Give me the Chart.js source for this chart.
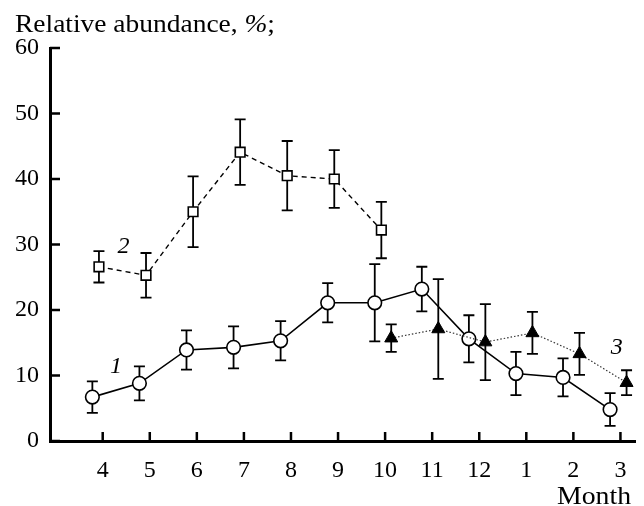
<!DOCTYPE html>
<html>
<head>
<meta charset="utf-8">
<script src="https://cdn.jsdelivr.net/npm/chart.js@4/dist/chart.umd.min.js"></script>
<style>
  html, body { margin: 0; padding: 0; background: #fff; }
  #wrap { width: 644px; height: 506px; position: relative; }
</style>
</head>
<body>
<div id="wrap"><canvas id="chart"></canvas></div>
<script>
// month labels along the x axis (April .. March)
var months = ['4', '5', '6', '7', '8', '9', '10', '11', '12', '1', '2', '3'];
var yTicks = [0, 10, 20, 30, 40, 50, 60];

// series 1: circles, solid line (all 12 months)
var s1Values = [6.7, 8.8, 13.9, 14.3, 15.3, 21.1, 21.1, 23.2, 15.6, 10.3, 9.7, 4.8];
var s1Errors = [2.4, 2.6, 3.0, 3.2, 3.0, 3.0, 5.9, 3.4, 3.6, 3.3, 2.9, 2.5];

// series 2: squares, dashed line (months 4..10)
var s2Values = [26.6, 25.3, 35.0, 44.1, 40.5, 40.0, 32.2];
var s2Errors = [2.4, 3.4, 5.4, 5.0, 5.3, 4.4, 4.3];

// series 3: filled triangles, dotted line (months 10..3)
var s3Values = [15.7, 17.1, 15.1, 16.5, 13.3, 8.9];
var s3Errors = [2.1, 7.6, 5.8, 3.2, 3.2, 1.9];

var SERIF = '"Liberation Serif", "DejaVu Serif", serif';

function toPoints(values, start, shift) {
  return values.map(function(v, i) { return { x: start + i + shift, y: v }; });
}

var datasets = [
  {
    label: '2', data: toPoints(s2Values, 0, -0.08), errors: s2Errors,
    borderColor: '#000', borderWidth: 1.4, borderDash: [5, 4],
    pointStyle: 'rect', pointRadius: 6.8, pointBorderWidth: 1.6,
    pointBackgroundColor: '#fff', pointBorderColor: '#000'
  },
  {
    label: '3', data: toPoints(s3Values, 6, 0.13), errors: s3Errors,
    borderColor: '#333', borderWidth: 1.2, borderDash: [1.5, 2],
    pointStyle: 'triangle', pointRadius: 7.5, pointBorderWidth: 1,
    pointBackgroundColor: '#000', pointBorderColor: '#000'
  },
  {
    label: '1', data: toPoints(s1Values, 0, -0.22), errors: s1Errors,
    borderColor: '#000', borderWidth: 1.6,
    pointStyle: 'circle', pointRadius: 6.8, pointBorderWidth: 1.6,
    pointBackgroundColor: '#fff', pointBorderColor: '#000'
  }
];
datasets.forEach(function(d) { d.clip = false; d.tension = 0; d.showLine = true; });

// error bars under the markers
var errorBars = {
  id: 'errorBars',
  beforeDatasetsDraw: function(chart) {
    var ctx = chart.ctx, xs = chart.scales.x, ys = chart.scales.y;
    ctx.save();
    ctx.strokeStyle = '#000';
    ctx.lineWidth = 1.8;
    chart.data.datasets.forEach(function(ds) {
      ds.data.forEach(function(p, i) {
        var e = ds.errors[i];
        var px = xs.getPixelForValue(p.x);
        var top = ys.getPixelForValue(p.y + e);
        var bot = ys.getPixelForValue(p.y - e);
        ctx.beginPath();
        ctx.moveTo(px, top); ctx.lineTo(px, bot);
        ctx.moveTo(px - 5.5, top); ctx.lineTo(px + 5.5, top);
        ctx.moveTo(px - 5.5, bot); ctx.lineTo(px + 5.5, bot);
        ctx.stroke();
      });
    });
    ctx.restore();
  }
};

// text squeezed or stretched to a given width
function fitText(ctx, parts, x, y, width) {
  var total = 0;
  parts.forEach(function(p) { ctx.font = p.font; total += ctx.measureText(p.text).width; });
  ctx.save();
  ctx.translate(x, y);
  ctx.scale(width / total, 1);
  var cx = 0;
  parts.forEach(function(p) {
    ctx.font = p.font;
    ctx.fillText(p.text, cx, 0);
    cx += ctx.measureText(p.text).width;
  });
  ctx.restore();
}

// inward tick marks and the free text
var decorations = {
  id: 'decorations',
  afterDraw: function(chart) {
    var ctx = chart.ctx, xs = chart.scales.x, ys = chart.scales.y;
    var a = chart.chartArea;
    ctx.save();
    ctx.strokeStyle = '#000';
    ctx.lineWidth = 2.5;
    ctx.beginPath();
    yTicks.forEach(function(v) {
      var py = ys.getPixelForValue(v);
      ctx.moveTo(a.left, py); ctx.lineTo(a.left + 10, py);
    });
    months.forEach(function(m, i) {
      var px = xs.getPixelForValue(i);
      ctx.moveTo(px, a.bottom); ctx.lineTo(px, a.bottom - 9);
    });
    ctx.stroke();

    ctx.fillStyle = '#000';
    ctx.textBaseline = 'alphabetic';
    ctx.textAlign = 'left';
    var f = '25px ' + SERIF, fi = 'italic 25px ' + SERIF;
    fitText(ctx, [
      { text: 'Relative abundance, ', font: f },
      { text: '%', font: fi },
      { text: ';', font: f }
    ], 15, 32, 260);
    fitText(ctx, [{ text: 'Month', font: '26px ' + SERIF }], 557, 504, 74);

    ctx.font = 'italic 24px ' + SERIF;
    ctx.textAlign = 'center';
    ctx.textBaseline = 'middle';
    ctx.fillText('1', xs.getPixelForValue(0.28), ys.getPixelForValue(11.3));
    ctx.fillText('2', xs.getPixelForValue(0.44), ys.getPixelForValue(29.6));
    ctx.fillText('3', xs.getPixelForValue(10.92), ys.getPixelForValue(14.3));
    ctx.restore();
  }
};

new Chart(document.getElementById('chart'), {
  type: 'line',
  data: { datasets: datasets },
  plugins: [errorBars, decorations],
  options: {
    responsive: true,
    maintainAspectRatio: false,
    animation: false,
    layout: { padding: { top: 48, right: 4, left: 0, bottom: 0 } },
    plugins: { legend: { display: false }, tooltip: { enabled: false } },
    scales: {
      x: {
        type: 'linear',
        min: -1.12,
        max: 11.32,
        afterBuildTicks: function(scale) {
          scale.ticks = months.map(function(m, i) { return { value: i }; });
        },
        afterFit: function(scale) { scale.height = 65; },
        grid: { display: false, drawTicks: false },
        border: { display: true, color: '#000', width: 3 },
        ticks: {
          autoSkip: false,
          maxRotation: 0,
          padding: 15,
          color: '#000',
          font: { family: SERIF, size: 24 },
          callback: function(v) { return months[v]; }
        }
      },
      y: {
        min: 0,
        max: 60,
        afterBuildTicks: function(scale) {
          scale.ticks = yTicks.map(function(v) { return { value: v }; });
        },
        afterFit: function(scale) { scale.width = 50; },
        grid: { display: false, drawTicks: false },
        border: { display: true, color: '#000', width: 3 },
        ticks: {
          padding: 11,
          color: '#000',
          font: { family: SERIF, size: 24 }
        }
      }
    }
  }
});
</script>
</body>
</html>
